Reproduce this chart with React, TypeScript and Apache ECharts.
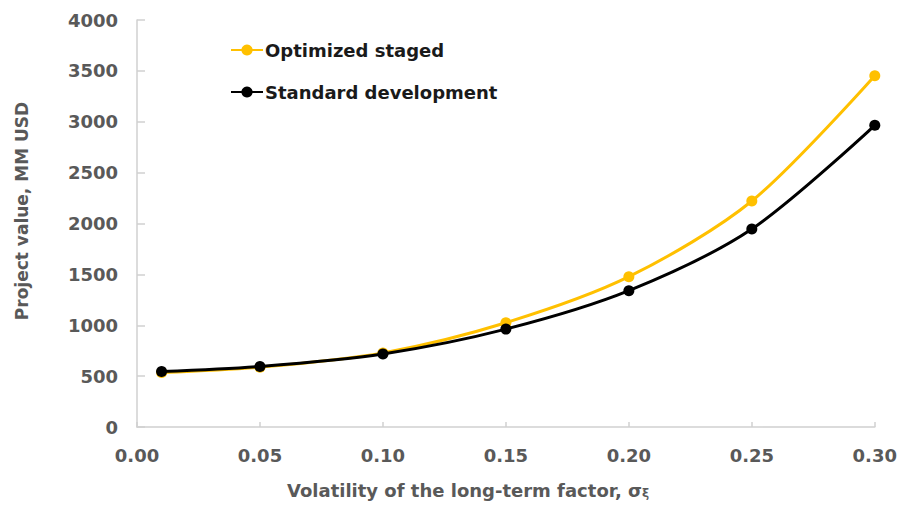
import React, { useEffect, useRef } from "react";
import * as echarts from "echarts";

const xValues = [0.01, 0.05, 0.1, 0.15, 0.2, 0.25, 0.3];
const optimizedStaged = [535, 588, 728, 1025, 1477, 2221, 3453];
const standardDevelopment = [545, 595, 718, 962, 1340, 1946, 2965];
const seriesNames = ["Optimized staged", "Standard development"];
const yAxisTitle = "Project value, MM USD";
const xAxisTitleMain = "Volatility of the long-term factor, σ";
const xAxisTitleSub = "ξ";

const FONT = "'DejaVu Sans', sans-serif";
const GREY = "#595959";

export default function App() {
  const ref = useRef<HTMLDivElement>(null);
  useEffect(() => {
    if (!ref.current) return;
    const chart = echarts.init(ref.current, undefined, { renderer: "svg" });
    const toPairs = (arr: number[]) => xValues.map((x, i) => [x, arr[i]]);
    chart.setOption({
      animation: false,
      backgroundColor: "#ffffff",
      textStyle: { fontFamily: FONT },
      grid: { left: 137, right: 24, top: 20, bottom: 79, containLabel: false },
      legend: {
        orient: "vertical",
        left: 225,
        top: 36,
        itemWidth: 32,
        itemHeight: 14,
        itemGap: 24,
        textStyle: { fontFamily: FONT, fontSize: 18, fontWeight: "bold", color: "#1a1a1a", padding: [0, 0, 0, -3] },
        data: seriesNames,
      },
      title: {
        text: `{m|${xAxisTitleMain}}{s|${xAxisTitleSub}}`,
        left: 287,
        top: 481,
        padding: 0,
        textStyle: {
          rich: {
            m: { fontFamily: FONT, fontSize: 18, fontWeight: "bold", color: GREY },
            s: { fontFamily: FONT, fontSize: 12, fontWeight: "bold", color: GREY, padding: [6, 0, 0, 0] },
          },
        },
      },
      graphic: [
        {
          type: "text",
          x: 22,
          y: 211,
          rotation: Math.PI / 2,
          style: {
            text: yAxisTitle,
            fontFamily: FONT,
            fontSize: 17,
            fontWeight: "bold",
            fill: GREY,
            align: "center",
            verticalAlign: "middle",
          },
        },
      ],
      xAxis: {
        type: "value",
        min: 0,
        max: 0.3,
        interval: 0.05,
        axisLine: { show: true, lineStyle: { color: "#d0d0d0", width: 1.5 } },
        axisTick: { show: true, inside: true, length: 5, lineStyle: { color: "#d0d0d0", width: 1.5 } },
        splitLine: { show: false },
        axisLabel: {
          fontFamily: FONT,
          fontSize: 18,
          fontWeight: "bold",
          color: GREY,
          margin: 19,
          formatter: (v: number) => v.toFixed(2),
        },
      },
      yAxis: {
        type: "value",
        min: 0,
        max: 4000,
        interval: 500,
        axisLine: { show: true, lineStyle: { color: "#d0d0d0", width: 1.5 } },
        axisTick: { show: true, inside: true, length: 8, lineStyle: { color: "#d0d0d0", width: 1.5 } },
        splitLine: { show: false },
        axisLabel: {
          fontFamily: FONT,
          fontSize: 18,
          fontWeight: "bold",
          color: GREY,
          margin: 19,
          formatter: (v: number) => String(v),
        },
      },
      series: [
        {
          name: seriesNames[0],
          type: "line",
          data: toPairs(optimizedStaged),
          smooth: 0.3,
          symbol: "circle",
          symbolSize: 11,
          lineStyle: { color: "#FFC000", width: 3 },
          itemStyle: { color: "#FFC000" },
          z: 2,
        },
        {
          name: seriesNames[1],
          type: "line",
          data: toPairs(standardDevelopment),
          smooth: 0.3,
          symbol: "circle",
          symbolSize: 11,
          lineStyle: { color: "#000000", width: 3 },
          itemStyle: { color: "#000000" },
          z: 3,
        },
      ],
    });
    return () => chart.dispose();
  }, []);
  return <div ref={ref} style={{ width: 900, height: 506, position: "absolute", left: 0, top: 0 }} />;
}
